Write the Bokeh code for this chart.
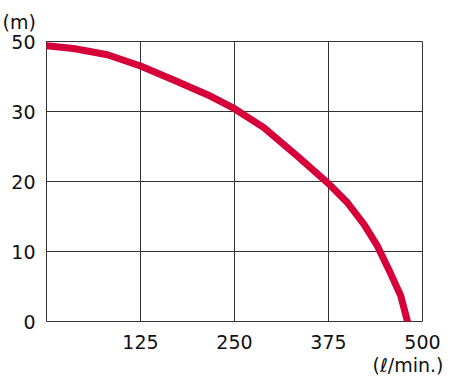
from bokeh.plotting import figure
from bokeh.models import Range1d, FixedTicker, Title
from bokeh.embed import file_html
from bokeh.resources import INLINE

# Data (y in plotted grid units; top gridline is labelled "50" in the source)
flow = [0, 36, 81, 125, 169, 214, 250, 289, 334, 375, 400, 422, 440, 457, 471, 480]
head = [39.4, 39.0, 38.1, 36.5, 34.5, 32.4, 30.4, 27.7, 23.6, 19.7, 17.0, 13.9, 10.8, 7.0, 3.7, 0]
x_ticks = [125, 250, 375, 500]
y_ticks = [0, 10, 20, 30, 40]
y_tick_labels = {0: "0", 10: "10", 20: "20", 30: "30", 40: "50"}

FONT = "DejaVu Sans"
FS = "19px"

p = figure(width=448, height=375, output_backend="svg", toolbar_location=None,
           x_range=Range1d(0, 500), y_range=Range1d(0, 40),
           min_border_left=46, min_border_top=40, min_border_right=26, min_border_bottom=54)
p.background_fill_color = "white"
p.border_fill_color = "white"
p.outline_line_color = "#333333"
p.outline_line_width = 1

p.xaxis.ticker = FixedTicker(ticks=x_ticks)
p.yaxis.ticker = FixedTicker(ticks=y_ticks)
p.yaxis.major_label_overrides = y_tick_labels
for ax in (p.xaxis[0], p.yaxis[0]):
    ax.axis_line_color = None
    ax.major_tick_line_color = None
    ax.minor_tick_line_color = None
    ax.major_label_text_font = FONT
    ax.major_label_text_font_size = FS
    ax.major_label_text_color = "#111111"
p.xaxis.major_label_standoff = 7
p.yaxis.major_label_standoff = 5

p.xgrid.ticker = FixedTicker(ticks=[125, 250, 375])
p.ygrid.ticker = FixedTicker(ticks=[10, 20, 30])
p.xgrid.grid_line_color = "#333333"
p.ygrid.grid_line_color = "#333333"
p.xgrid.grid_line_width = 1
p.ygrid.grid_line_width = 1

p.line(flow, head, line_color="#d6003a", line_width=7, line_cap="round", line_join="round")

p.title.text = "(m)"
p.title.align = "left"
p.title.offset = -44
p.title.standoff = 17
p.title.text_font = FONT
p.title.text_font_size = FS
p.title.text_font_style = "normal"
p.title.text_color = "#111111"

p.add_layout(Title(text="(ℓ/min.)", align="right", offset=-21, standoff=0, text_font=FONT,
                   text_font_size=FS, text_font_style="normal", text_color="#111111"),
             "below")

open("out.html", "w").write(file_html(p, INLINE))
